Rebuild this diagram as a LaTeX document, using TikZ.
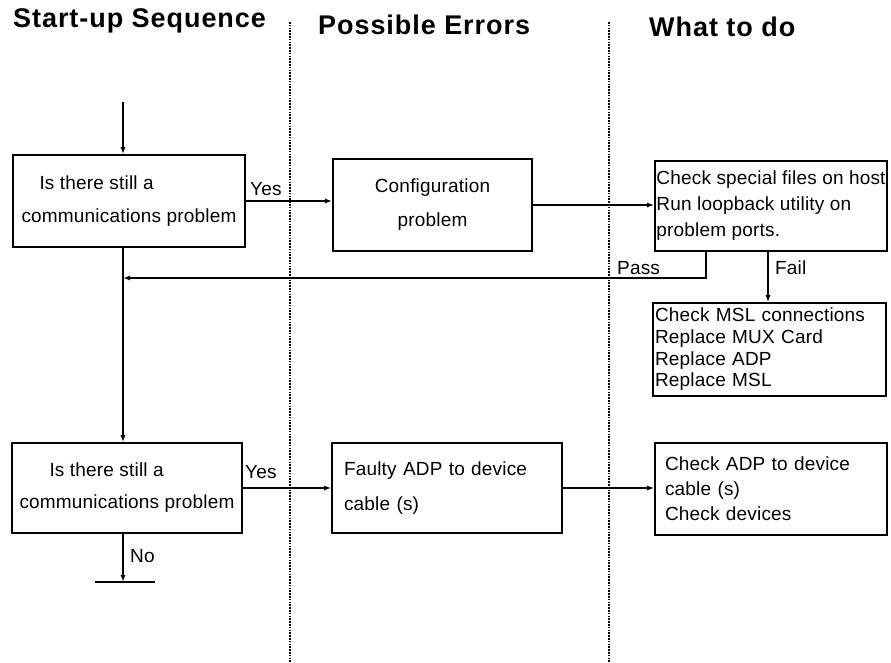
\documentclass[tikz,border=0pt]{standalone}
\usepackage{fontspec}
\usetikzlibrary{arrows.meta}
\newfontfamily\bodyf{Liberation Sans}[LetterSpace=1]
\newfontfamily\headf{Liberation Sans Bold}[LetterSpace=3.5]
\begin{document}
\begin{tikzpicture}[x=1pt,y=-1pt,
  box/.style={draw,line width=1.6pt,rectangle,inner ysep=0pt},
  bf/.style={font=\bodyf\fontsize{19}{#1}\selectfont},
  lab/.style={font=\bodyf\fontsize{19}{21}\selectfont,inner sep=0pt},
  hd/.style={font=\headf\fontsize{27}{30}\selectfont,inner sep=0pt,anchor=base west},
  arr/.style={line width=1.4pt,-{Latex[length=7pt,width=5pt]}},
  sep/.style={line width=1.8pt,dash pattern=on 1.6pt off 1.2pt}]
\useasboundingbox (0,0) rectangle (891,662);

% headers
\node[hd] (h1) at (13,27) {Start-up Sequence};
\node[hd] (h2) at (318,34) {Possible Errors};
\node[hd] (h3) at (649,36) {What to do};

% column separators
\coordinate (s1t) at (290,22); \coordinate (s1b) at (290,662);
\coordinate (s2t) at (609,22); \coordinate (s2b) at (609,662);
\draw[sep] (s1t) -- (s1b);
\draw[sep] (s2t) -- (s2b);

% boxes
\node[box,bf=33,minimum width=232pt,minimum height=92pt,align=left] (b1) at (129,201)
  {\hspace*{18pt}Is there still a\\communications problem};
\node[box,bf=34,minimum width=199pt,minimum height=92pt,align=center] (conf) at (432.5,205)
  {Configuration\\problem};
\node[box,bf=26,minimum width=232pt,minimum height=90pt,inner xsep=0pt,align=left] (chk) at (771,206)
  {Check special files on host\\Run loopback utility on\\problem ports.};
\node[box,bf=21.7,minimum width=233pt,minimum height=93pt,inner xsep=0pt,text width=229pt,align=left] (msl) at (769.5,349.5)
  {Check MSL connections\\Replace MUX Card\\Replace ADP\\Replace MSL};
\node[box,bf=32,minimum width=230pt,minimum height=90pt,align=left] (b2) at (127,488)
  {\hspace*{30pt}Is there still a\\communications problem};
\node[box,bf=35,minimum width=230pt,minimum height=90pt,inner xsep=12pt,text width=206pt,align=left] (fault) at (447,488)
  {Faulty ADP to device\\cable (s)};
\node[box,bf=25,minimum width=232pt,minimum height=92pt,inner xsep=10pt,text width=212pt,align=left] (chk2) at (771,489)
  {Check ADP to device\\cable (s)\\Check devices};

% connector points
\coordinate (start) at (123,102);
\coordinate (pass) at (706,278);
\coordinate (fail) at (768,0);
\coordinate (nob) at (123,582);
\coordinate (barl) at (95,582);
\coordinate (barr) at (155,582);

\draw[arr] (start) -- (start |- b1.north);
\draw[arr] (b1.east) -- (b1.east -| conf.west);
\draw[arr] (conf.east) -- (conf.east -| chk.west);
\draw[arr] (chk.south -| pass) -- (pass) -- (pass -| start);
\draw[arr] (chk.south -| fail) -- (msl.north -| fail);
\draw[arr] (b1.south -| start) -- (b2.north -| start);
\draw[arr] (b2.east) -- (fault.west);
\draw[arr] (fault.east) -- (fault.east -| chk2.west);
\draw[arr] (b2.south -| start) -- (nob);
\draw[line width=1.8pt] (barl) -- (barr);

% labels
\node[lab,anchor=west] (yes1) at (250,189) {Yes};
\node[lab,anchor=west] (passl) at (617,268) {Pass};
\node[lab,anchor=west] (faill) at (775,268) {Fail};
\node[lab,anchor=west] (yes2) at (245,472) {Yes};
\node[lab,anchor=west] (nol) at (130,556) {No};
\end{tikzpicture}
\end{document}
